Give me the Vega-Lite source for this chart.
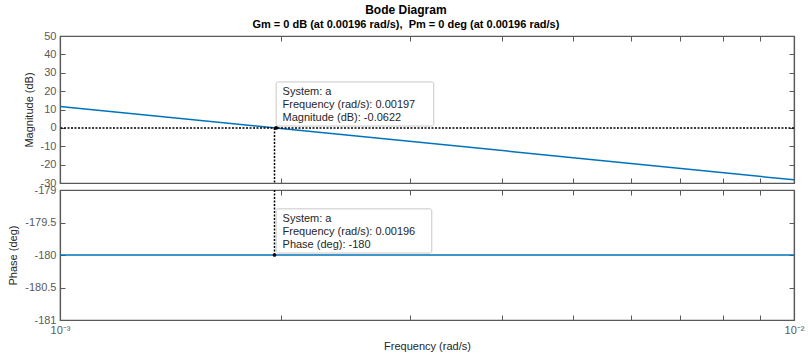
{
  "$schema": "https://vega.github.io/schema/vega-lite/v6.json",
  "background": "white",
  "padding": {"left": 7, "top": 4, "right": 12, "bottom": 4},
  "title": {
    "text": "Bode Diagram",
    "subtitle": "Gm = 0 dB (at 0.00196 rad/s), \u00a0Pm = 0 deg (at 0.00196 rad/s)",
    "font": "Liberation Sans",
    "fontSize": 12,
    "fontWeight": "bold",
    "color": "black",
    "subtitleFont": "Liberation Sans",
    "subtitleFontSize": 11,
    "subtitleFontWeight": "bold",
    "subtitleColor": "black",
    "subtitlePadding": 2,
    "anchor": "middle",
    "offset": -2
  },
  "datasets": {
    "mag": [
      {"f": 0.001, "mag": 11.7},
      {"f": 0.002, "mag": -0.3},
      {"f": 0.005, "mag": -16.2},
      {"f": 0.01, "mag": -28.3}
    ],
    "phase": [
      {"f": 0.001, "phase": -180},
      {"f": 0.01, "phase": -180}
    ],
    "magTip": [
      {"f": 0.00197, "mag": -0.0622, "boxF1": 0.00197, "boxF2": 0.00323, "boxY1": 1.0, "boxY2": 25.0}
    ],
    "magTipText": [
      {"f": 0.00201, "y": 19.5, "label": "System: a"},
      {"f": 0.00201, "y": 12.4, "label": "Frequency (rad/s): 0.00197"},
      {"f": 0.00201, "y": 5.3, "label": "Magnitude (dB): -0.0622"}
    ],
    "phaseTip": [
      {"f": 0.00196, "phase": -180, "boxF1": 0.00197, "boxF2": 0.00321, "boxY1": -179.97, "boxY2": -179.29}
    ],
    "phaseTipText": [
      {"f": 0.00201, "y": -179.45, "label": "System: a"},
      {"f": 0.00201, "y": -179.65, "label": "Frequency (rad/s): 0.00196"},
      {"f": 0.00201, "y": -179.85, "label": "Phase (deg): -180"}
    ]
  },
  "spacing": 7,
  "bounds": "flush",
  "vconcat": [
    {
      "width": 734,
      "height": 147,
      "resolve": {"axis": {"x": "independent", "y": "independent"}},
      "layer": [
        {
          "data": {"name": "mag"},
          "mark": {"type": "line", "color": "#0072BD", "strokeWidth": 1.5, "clip": true},
          "encoding": {
            "x": {
              "field": "f", "type": "quantitative",
              "scale": {"type": "log", "domain": [0.001, 0.01], "nice": false},
              "axis": {"orient": "bottom", "values": [0.001, 0.002, 0.003, 0.004, 0.005, 0.006, 0.007, 0.008, 0.009, 0.01], "labels": false, "title": null, "minExtent": 0, "maxExtent": 0}
            },
            "y": {
              "field": "mag", "type": "quantitative",
              "scale": {"domain": [-30, 50], "nice": false, "zero": false},
              "axis": {"orient": "left", "values": [-30, -20, -10, 0, 10, 20, 30, 40, 50], "labelExpr": "'' + datum.value", "title": "Magnitude (dB)", "labelPadding": 9, "titlePadding": 6}
            }
          }
        },
        {
          "data": {"values": [{"v": 0}]},
          "mark": {"type": "rule", "color": "black", "strokeDash": [2, 1.5], "strokeWidth": 1.5},
          "encoding": {
            "y": {"field": "v", "type": "quantitative", "axis": null}
          }
        },
        {
          "data": {"values": [{"f": 0.00196}]},
          "mark": {"type": "rule", "color": "black", "strokeDash": [2, 1.5], "strokeWidth": 1.5},
          "encoding": {
            "x": {"field": "f", "type": "quantitative", "axis": {"orient": "top", "values": [0.001, 0.002, 0.003, 0.004, 0.005, 0.006, 0.007, 0.008, 0.009, 0.01], "labels": false, "title": null, "minExtent": 0, "maxExtent": 0}},
            "y": {"datum": 0, "axis": {"orient": "right", "values": [-30, -20, -10, 0, 10, 20, 30, 40, 50], "labels": false, "title": null, "minExtent": 0, "maxExtent": 0}},
            "y2": {"datum": -30}
          }
        },
        {
          "data": {"name": "magTip"},
          "mark": {"type": "rect", "fill": "white", "stroke": "#c8c8c8", "strokeWidth": 1, "cornerRadius": 2},
          "encoding": {
            "x": {"field": "boxF1", "type": "quantitative", "axis": null},
            "x2": {"field": "boxF2"},
            "y": {"field": "boxY1", "type": "quantitative", "axis": null},
            "y2": {"field": "boxY2"}
          }
        },
        {
          "data": {"name": "magTip"},
          "mark": {"type": "point", "filled": true, "color": "black", "size": 14, "opacity": 1},
          "encoding": {
            "x": {"field": "f", "type": "quantitative", "axis": null},
            "y": {"field": "mag", "type": "quantitative", "axis": null}
          }
        },
        {
          "data": {"name": "magTipText"},
          "mark": {"type": "text", "align": "left", "baseline": "middle", "font": "Liberation Sans", "fontSize": 11, "color": "#262626"},
          "encoding": {
            "x": {"field": "f", "type": "quantitative", "axis": null},
            "y": {"field": "y", "type": "quantitative", "axis": null},
            "text": {"field": "label"}
          }
        }
      ]
    },
    {
      "width": 734,
      "height": 130,
      "resolve": {"axis": {"x": "independent", "y": "independent"}},
      "layer": [
        {
          "data": {"name": "phase"},
          "mark": {"type": "line", "color": "#0072BD", "strokeWidth": 1.5},
          "encoding": {
            "x": {
              "field": "f", "type": "quantitative",
              "scale": {"type": "log", "domain": [0.001, 0.01], "nice": false},
              "axis": {
                "orient": "bottom",
                "values": [0.001, 0.002, 0.003, 0.004, 0.005, 0.006, 0.007, 0.008, 0.009, 0.01],
                "labelExpr": "abs(datum.value - 0.001) < 1e-9 ? '10⁻³' : (abs(datum.value - 0.01) < 1e-9 ? '10⁻²' : '')",
                "labelOverlap": false, "labelFlush": false, "labelBound": false,
                "labelPadding": 9,
                "title": "Frequency  (rad/s)", "titlePadding": 5
              }
            },
            "y": {
              "field": "phase", "type": "quantitative",
              "scale": {"domain": [-181, -179], "nice": false, "zero": false},
              "axis": {"orient": "left", "values": [-181, -180.5, -180, -179.5, -179], "labelExpr": "'' + datum.value", "title": "Phase (deg)", "labelPadding": 9, "titlePadding": 6}
            }
          }
        },
        {
          "data": {"values": [{"f": 0.00196}]},
          "mark": {"type": "rule", "color": "black", "strokeDash": [2, 1.5], "strokeWidth": 1.5},
          "encoding": {
            "x": {"field": "f", "type": "quantitative", "axis": {"orient": "top", "values": [0.001, 0.002, 0.003, 0.004, 0.005, 0.006, 0.007, 0.008, 0.009, 0.01], "labels": false, "title": null, "minExtent": 0, "maxExtent": 0}},
            "y": {"datum": -179, "axis": {"orient": "right", "values": [-181, -180.5, -180, -179.5, -179], "labels": false, "title": null, "minExtent": 0, "maxExtent": 0}},
            "y2": {"datum": -180}
          }
        },
        {
          "data": {"name": "phaseTip"},
          "mark": {"type": "rect", "fill": "white", "stroke": "#c8c8c8", "strokeWidth": 1, "cornerRadius": 2},
          "encoding": {
            "x": {"field": "boxF1", "type": "quantitative", "axis": null},
            "x2": {"field": "boxF2"},
            "y": {"field": "boxY1", "type": "quantitative", "axis": null},
            "y2": {"field": "boxY2"}
          }
        },
        {
          "data": {"name": "phaseTip"},
          "mark": {"type": "point", "filled": true, "color": "black", "size": 14, "opacity": 1},
          "encoding": {
            "x": {"field": "f", "type": "quantitative", "axis": null},
            "y": {"field": "phase", "type": "quantitative", "axis": null}
          }
        },
        {
          "data": {"name": "phaseTipText"},
          "mark": {"type": "text", "align": "left", "baseline": "middle", "font": "Liberation Sans", "fontSize": 11, "color": "#262626"},
          "encoding": {
            "x": {"field": "f", "type": "quantitative", "axis": null},
            "y": {"field": "y", "type": "quantitative", "axis": null},
            "text": {"field": "label"}
          }
        }
      ]
    }
  ],
  "config": {
    "concat": {"spacing": 7},
    "view": {"stroke": "#595959", "strokeWidth": 1.2},
    "axis": {
      "labelFont": "Liberation Sans",
      "titleFont": "Liberation Sans",
      "labelColor": "#595959",
      "tickColor": "#595959",
      "domainColor": "#595959",
      "domainWidth": 1.2,
      "labelFontSize": 11,
      "titleFontSize": 11,
      "titleFontWeight": "normal",
      "titleColor": "#262626",
      "grid": false,
      "tickSize": -5
    }
  }
}
